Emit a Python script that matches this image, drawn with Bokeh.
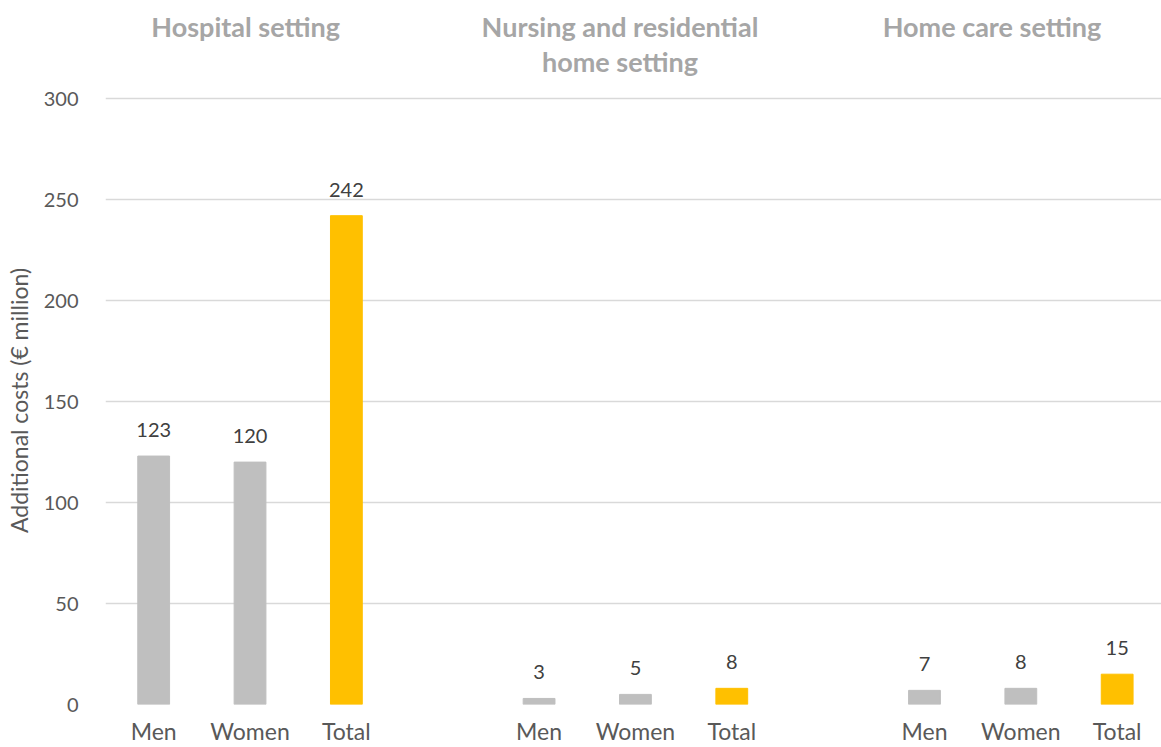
from bokeh.plotting import figure
from bokeh.models import ColumnDataSource, FixedTicker, Range1d
from bokeh.layouts import column
from bokeh.core.properties import value
from bokeh.embed import file_html
from bokeh.resources import INLINE

# Data
groups = ["Hospital setting", "Nursing and residential\nhome setting", "Home care setting"]
categories = ["Men", "Women", "Total"]
hospital = [123, 120, 242]
nursing = [3, 5, 8]
home = [7, 8, 15]
y_ticks = [0, 50, 100, 150, 200, 250, 300]

GRAY = "#BFBFBF"
GOLD = "#FFC000"
FONT = "Lato"

xs, tops, colors, labels, names = [], [], [], [], []
for gi, vals in enumerate([hospital, nursing, home]):
    for ci, v in enumerate(vals):
        x = gi * 4 + ci + 0.5
        xs.append(x)
        tops.append(v)
        colors.append(GOLD if categories[ci] == "Total" else GRAY)
        labels.append(str(v))
        names.append(categories[ci])

src = ColumnDataSource(dict(x=xs, top=tops, color=colors, label=labels))
x_range = Range1d(0, 10.96)

TOP_H = 86
# Heading strip
head = figure(width=1161, height=TOP_H, output_backend="svg", toolbar_location=None,
              x_range=x_range, y_range=Range1d(0, TOP_H),
              min_border_left=105, min_border_right=0, min_border_top=0, min_border_bottom=0)
head.axis.visible = False
head.grid.visible = False
head.outline_line_color = None
title_x = [1.455, 5.34, 9.20]
head.text(x=title_x, y=[TOP_H - 9] * 3, text=groups, text_align="center", text_baseline="top",
          text_font=value(FONT), text_font_style="bold", text_font_size="27px",
          text_color="#A6A6A6", text_line_height=1.08)

p = figure(width=1161, height=747 - TOP_H, output_backend="svg", toolbar_location=None,
           x_range=x_range, y_range=Range1d(0, 301),
           min_border_left=105, min_border_right=0, min_border_top=10, min_border_bottom=42)
p.outline_line_color = None

p.vbar(x="x", top="top", width=0.33, color="color", source=src)
p.text(x="x", y="top", text="label", source=src, text_align="center", text_baseline="bottom",
       y_offset=-19, text_font_size="20px", text_color="#404040", text_font=value(FONT))

p.xaxis.ticker = FixedTicker(ticks=xs)
p.xaxis.major_label_overrides = {x: n for x, n in zip(xs, names)}
p.xaxis.axis_line_color = None
p.xaxis.major_tick_line_color = None
p.xaxis.minor_tick_line_color = None
p.xaxis.major_label_text_font_size = "23px"
p.xaxis.major_label_text_color = "#595959"
p.xaxis.major_label_text_font = FONT
p.xaxis.major_label_standoff = 6
p.xgrid.grid_line_color = None

p.yaxis.ticker = FixedTicker(ticks=y_ticks)
p.yaxis.axis_line_color = None
p.yaxis.major_tick_line_color = None
p.yaxis.minor_tick_line_color = None
p.yaxis.major_label_text_font_size = "20px"
p.yaxis.major_label_text_color = "#595959"
p.yaxis.major_label_text_font = FONT
p.yaxis.major_label_standoff = 21
p.yaxis.axis_label = "Additional costs (€ million)"
p.yaxis.axis_label_text_font_size = "23px"
p.yaxis.axis_label_text_font_style = "normal"
p.yaxis.axis_label_text_color = "#595959"
p.yaxis.axis_label_text_font = FONT
p.yaxis.axis_label_standoff = 8
p.ygrid.grid_line_color = "#D9D9D9"
p.ygrid.grid_line_width = 1.5

layout = column(head, p, spacing=0)
open("out.html", "w").write(file_html(layout, INLINE))
